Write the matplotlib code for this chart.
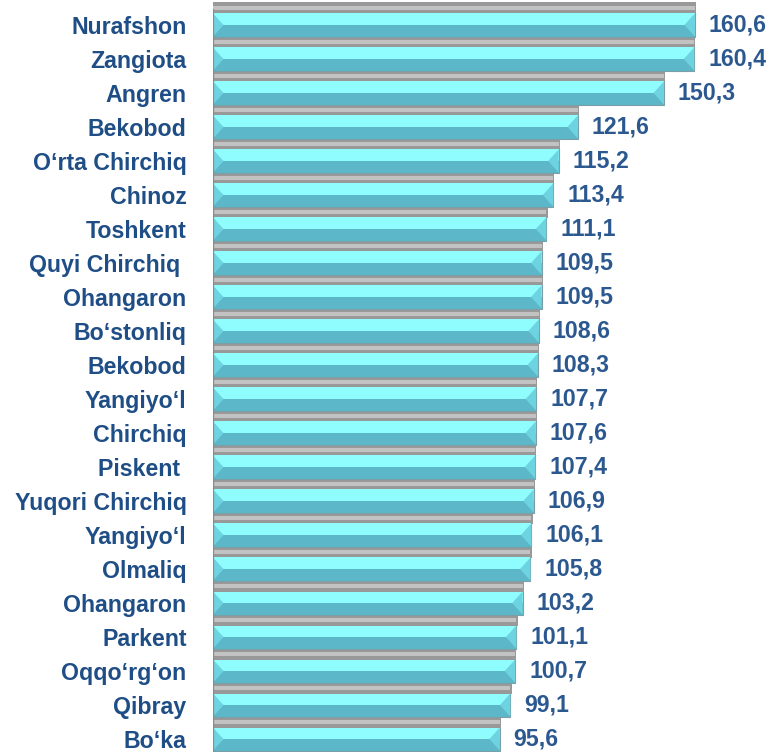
"""
Tuman/shaharlar bo'yicha ko'rsatkich (gorizontal bar)
"""
import matplotlib
matplotlib.use('Agg')
import matplotlib.pyplot as plt
from matplotlib.patches import Polygon

plt.rcParams['font.family'] = ['Liberation Sans', 'DejaVu Sans']

# ma'lumotlar
districts = ['Nurafshon', 'Zangiota', 'Angren', 'Bekobod', 'O‘rta Chirchiq',
             'Chinoz', 'Toshkent', 'Quyi Chirchiq ', 'Ohangaron', 'Bo‘stonliq',
             'Bekobod', 'Yangiyo‘l', 'Chirchiq', 'Piskent ', 'Yuqori Chirchiq',
             'Yangiyo‘l', 'Olmaliq', 'Ohangaron', 'Parkent', 'Oqqo‘rg‘on',
             'Qibray', 'Bo‘ka']
values = [160.6, 160.4, 150.3, 121.6, 115.2, 113.4, 111.1, 109.5, 109.5, 108.6,
          108.3, 107.7, 107.6, 107.4, 106.9, 106.1, 105.8, 103.2, 101.1, 100.7,
          99.1, 95.6]

LABEL_COLOR = '#1f4e86'
VALUE_COLOR = '#2c5890'
LIGHT = '#8ffcfd'
DARK = '#5cb8c8'
MID = '#6dd3e0'

fig = plt.figure(figsize=(7.69, 7.52), dpi=100)
ax = fig.add_axes([213 / 769, 0, 556 / 769, 1])

h = 0.68       # bar qalinligi
bev = 3.5      # chetlardagi qiyalik

for i, v in enumerate(values):
    # soya (bar ustidagi kulrang polosa)
    ax.barh(i - 0.5, v + 0.4, height=0.34, color='#999999', zorder=1)
    ax.barh(i - 0.5, v, height=0.14, color='#c2c2c2', zorder=1)
    # asosiy bar
    ax.barh(i, v, height=h, color=DARK, edgecolor='#7b9fa8', linewidth=0.8, zorder=2)
    ax.barh(i - h / 4, v, height=h / 2, color=LIGHT, zorder=3)
    top, bot = i - h / 2, i + h / 2
    ax.add_patch(Polygon([(0, top), (0, bot), (bev, i)], closed=True,
                         color=MID, zorder=4, lw=0))
    ax.add_patch(Polygon([(v, top), (v, bot), (v - bev, i)], closed=True,
                         color=MID, zorder=4, lw=0))
    ax.annotate(f'{v:.1f}'.replace('.', ','), (v, i), xytext=(10, 0),
                textcoords='offset points', va='center', ha='left',
                fontsize=16.7, fontweight='bold', color=VALUE_COLOR)

# chap o'q chizig'i
ax.plot([0, 0], [-0.44, len(values)], color='#8a8a8a', lw=1.6, zorder=5)

ax.set_xlim(0, 185.3)
ax.set_ylim(21.38, -0.735)
ax.set_yticks(range(len(districts)))
ax.set_yticklabels(districts, fontsize=16.7, fontweight='bold', color=LABEL_COLOR)
ax.tick_params(axis='y', length=0, pad=19)
ax.set_xticks([])
for s in ax.spines.values():
    s.set_visible(False)

plt.savefig('out.png', dpi=100)
plt.close()
